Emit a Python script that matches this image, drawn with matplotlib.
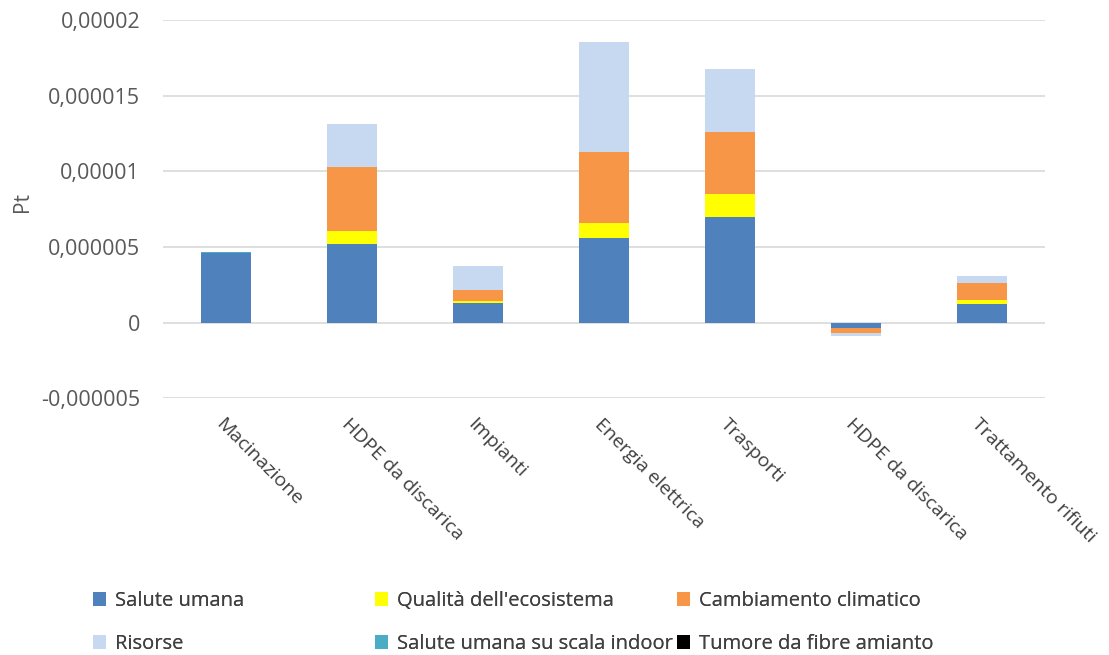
import matplotlib.pyplot as plt
from matplotlib.patches import Patch
from matplotlib.ticker import FuncFormatter
import numpy as np

plt.rcParams['font.family'] = ['Open Sans', 'DejaVu Sans']

categorie = ['Macinazione', 'HDPE da discarica', 'Impianti', 'Energia elettrica',
             'Trasporti', 'HDPE da discarica', 'Trattamento rifiuti']

# valori in Pt
salute_umana = [4.58e-6, 5.17e-6, 1.28e-6, 5.63e-6, 7.02e-6, -0.33e-6, 1.26e-6]
qualita_ecosistema = [0.0, 0.86e-6, 0.18e-6, 0.93e-6, 1.46e-6, -0.03e-6, 0.22e-6]
cambiamento_climatico = [0.0, 4.24e-6, 0.68e-6, 4.70e-6, 4.10e-6, -0.30e-6, 1.15e-6]
risorse = [0.05e-6, 2.85e-6, 1.63e-6, 7.28e-6, 4.17e-6, -0.20e-6, 0.46e-6]
salute_indoor = [0.02e-6, 0.0, 0.0, 0.0, 0.0, 0.0, 0.0]
tumore_amianto = [0.0, 0.0, 0.0, 0.0, 0.0, 0.0, 0.0]

serie = [
    ('Salute umana', salute_umana, '#4F81BD'),
    ("Qualità dell'ecosistema", qualita_ecosistema, '#FFFF00'),
    ('Cambiamento climatico', cambiamento_climatico, '#F79646'),
    ('Risorse', risorse, '#C6D9F1'),
    ('Salute umana su scala indoor', salute_indoor, '#4BACC6'),
    ('Tumore da fibre amianto', tumore_amianto, '#000000'),
]

fig = plt.figure(figsize=(11.09, 6.55), dpi=100)
ax = fig.add_axes([0.147, 0.392, 0.795, 0.577])

x = np.arange(len(categorie))
pos = np.zeros(len(categorie))
neg = np.zeros(len(categorie))
for nome, vals, col in serie:
    vals = np.array(vals)
    base = np.where(vals >= 0, pos, neg)
    ax.bar(x, vals, 0.4, bottom=base, color=col, zorder=3)
    pos += np.where(vals >= 0, vals, 0)
    neg += np.where(vals < 0, vals, 0)

ax.set_xlim(-0.5, len(categorie) - 0.5)
ax.set_ylim(-0.000005, 0.00002)
ax.set_yticks([-0.000005, 0, 0.000005, 0.00001, 0.000015, 0.00002])
etichette_y = {-0.000005: '-0,000005', 0: '0', 0.000005: '0,000005',
               0.00001: '0,00001', 0.000015: '0,000015', 0.00002: '0,00002'}
ax.yaxis.set_major_formatter(FuncFormatter(
    lambda v, p: min(etichette_y.items(), key=lambda kv: abs(kv[0] - v))[1]))
ax.grid(axis='y', color='#D9D9D9', linewidth=1.2, zorder=0)
for s in ax.spines.values():
    s.set_visible(False)
ax.tick_params(axis='y', length=0, labelsize=15.5, labelcolor='#595959', pad=16.5)
ax.set_ylabel('Pt', fontsize=15, color='#595959')
ax.yaxis.set_label_coords(-0.148, 0.52)

ax.set_xticks(x)
ax.set_xticklabels([])
ax.tick_params(axis='x', length=0)
for xi, lab in zip(x, categorie):
    ax.annotate(lab, xy=(xi, -0.000005), xycoords='data', xytext=(-5, -17),
                textcoords='offset points', rotation=-45, rotation_mode='anchor',
                ha='left', va='center', fontsize=14, color='#404040')

handles = [Patch(facecolor=c, label=n) for n, _, c in serie]
colonne_x = [93, 375, 677]
for k, cx in enumerate(colonne_x):
    idx = [k, k + 3]
    leg = fig.legend([handles[i] for i in idx], [serie[i][0] for i in idx],
                     loc='upper left', bbox_to_anchor=(cx / 1109, 1 - 591 / 655),
                     frameon=False, fontsize=14.5, labelcolor='#404040',
                     handlelength=0.65, handleheight=0.65, handletextpad=0.45,
                     labelspacing=1.15, borderpad=0, borderaxespad=0)
    fig.add_artist(leg)

plt.savefig('out.png', dpi=100)
plt.close()
